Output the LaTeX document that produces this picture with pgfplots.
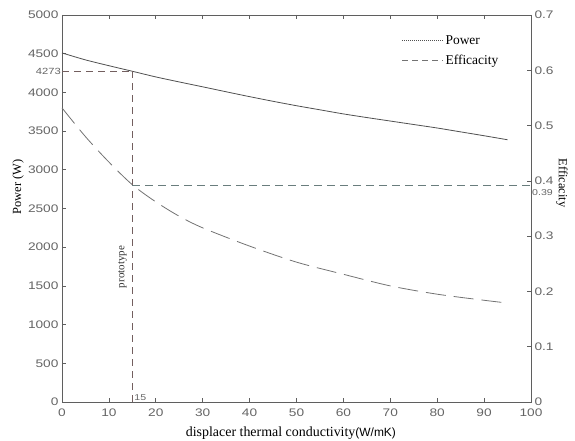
\documentclass[border=0pt]{standalone}
\usepackage{fontspec}
\setmainfont{Liberation Serif}
\setsansfont{Liberation Sans}
\newfontfamily\tickfont[FakeStretch=1.25]{Liberation Sans}
\usepackage{pgfplots}
\pgfplotsset{compat=1.18}

\definecolor{curvePow}{RGB}{80,80,80}
\definecolor{curveEff}{RGB}{115,115,115}
\definecolor{refA}{RGB}{115,95,95}
\definecolor{refB}{RGB}{105,125,125}
\definecolor{axcol}{RGB}{95,95,95}
\definecolor{ticktxt}{RGB}{100,100,100}

% power vs. displacer thermal conductivity (W)
\pgfplotstableread{
k    P
0    4510
5    4420
10   4345
15   4273
20   4200
25   4135
30   4072
35   4008
40   3945
45   3885
50   3828
55   3775
60   3722
65   3675
70   3630
75   3585
80   3540
85   3490
90   3440
95   3388
}\powertab

% efficacity vs. displacer thermal conductivity
\pgfplotstableread{
k    E
0    0.532
5    0.480
10   0.434
15   0.393
20   0.362
25   0.336
30   0.315
40   0.282
50   0.253
60   0.231
70   0.210
80   0.195
90   0.184
95   0.179
}\efftab

\pgfplotsset{
  base/.style={
    scale only axis, width=469bp, height=387bp,
    xmin=0, xmax=100,
    tick align=inside,
    major tick length=4bp,
    axis line style={axcol, line width=0.8bp},
    every tick/.style={axcol, line width=0.7bp},
    tick label style={font=\tickfont\fontsize{11}{12}\selectfont, text=ticktxt},
    /pgf/number format/assume math mode=true,
    /pgf/number format/1000 sep={},
    clip=false,
  },
}

\begin{document}
\begin{tikzpicture}
\useasboundingbox (-62bp,-39bp) rectangle (513bp,402bp);

\begin{axis}[base,
  ymin=0, ymax=5000,
  xtick={0,10,...,100}, ytick={0,500,...,5000},
  xtick pos=both, ytick pos=left,
  xticklabel style={yshift=-3bp},
  xlabel={displacer thermal conductivity{\sffamily\fontsize{12}{12}\selectfont(W/mK)}},
  xlabel style={font=\fontsize{14}{14}\selectfont, at={(axis description cs:0.488,-0.0879)}, anchor=base},
  ylabel={Power (W)},
  ylabel style={font=\fontsize{12.5}{13}\selectfont, at={(axis description cs:-0.0938,0.556)}, anchor=center},
]
  \addplot[curvePow, line width=0.8bp, smooth] table[x=k, y=P] {\powertab};
  % prototype operating point
  \addplot[refA, line width=0.8bp, dash pattern=on 7bp off 5bp] coordinates {(0,4273) (15,4273)};
  \addplot[refA, line width=0.8bp, dash pattern=on 7bp off 5bp] coordinates {(15,4273) (15,0)};
  \node[anchor=east, font=\tickfont\fontsize{9}{9}\selectfont, text=ticktxt, inner sep=1bp] at (axis cs:0,4273) {4273};
  \node[anchor=south west, font=\tickfont\fontsize{8.5}{9}\selectfont, text=ticktxt, inner sep=1bp] at (axis cs:15.2,0) {15};
  \node[rotate=90, font=\fontsize{11}{11}\selectfont, text=black!80] at (axis cs:12.9,1744) {prototype};
\end{axis}

\begin{axis}[base,
  ymin=0, ymax=0.7,
  axis y line*=right, axis x line=none,
  ytick={0,0.1,...,0.7},
  yticklabel style={/pgf/number format/fixed, /pgf/number format/precision=1},
  ylabel={Efficacity},
  ylabel style={font=\fontsize{12.5}{13}\selectfont, at={(axis description cs:1.066,0.566)}, anchor=center, rotate=180},
  legend style={draw=none, fill=none, at={(axis description cs:0.72,0.958)}, anchor=north west,
    font=\fontsize{13.5}{13.5}\selectfont, row sep=5bp, inner sep=2bp},
  legend cell align=left,
  legend image code/.code={\draw[#1] (0bp,0bp) -- (41bp,0bp);},
]
  \addlegendimage{curvePow, line width=0.7bp, dash pattern=on 1bp off 1bp}
  \addlegendentry{Power}
  \addlegendimage{curveEff, line width=0.7bp, dash pattern=on 6bp off 4bp}
  \addlegendentry{Efficacity}
  \addplot[curveEff, line width=0.8bp, smooth, dash pattern=on 20bp off 8bp, forget plot] table[x=k, y=E] {\efftab};
  \addplot[refB, line width=0.8bp, dash pattern=on 8bp off 5bp, forget plot] coordinates {(15,0.392) (100,0.392)};
  \node[anchor=north west, font=\tickfont\fontsize{8.5}{9}\selectfont, text=ticktxt, inner sep=1bp] at (axis cs:100,0.386) {0.39};
\end{axis}
\end{tikzpicture}
\end{document}
